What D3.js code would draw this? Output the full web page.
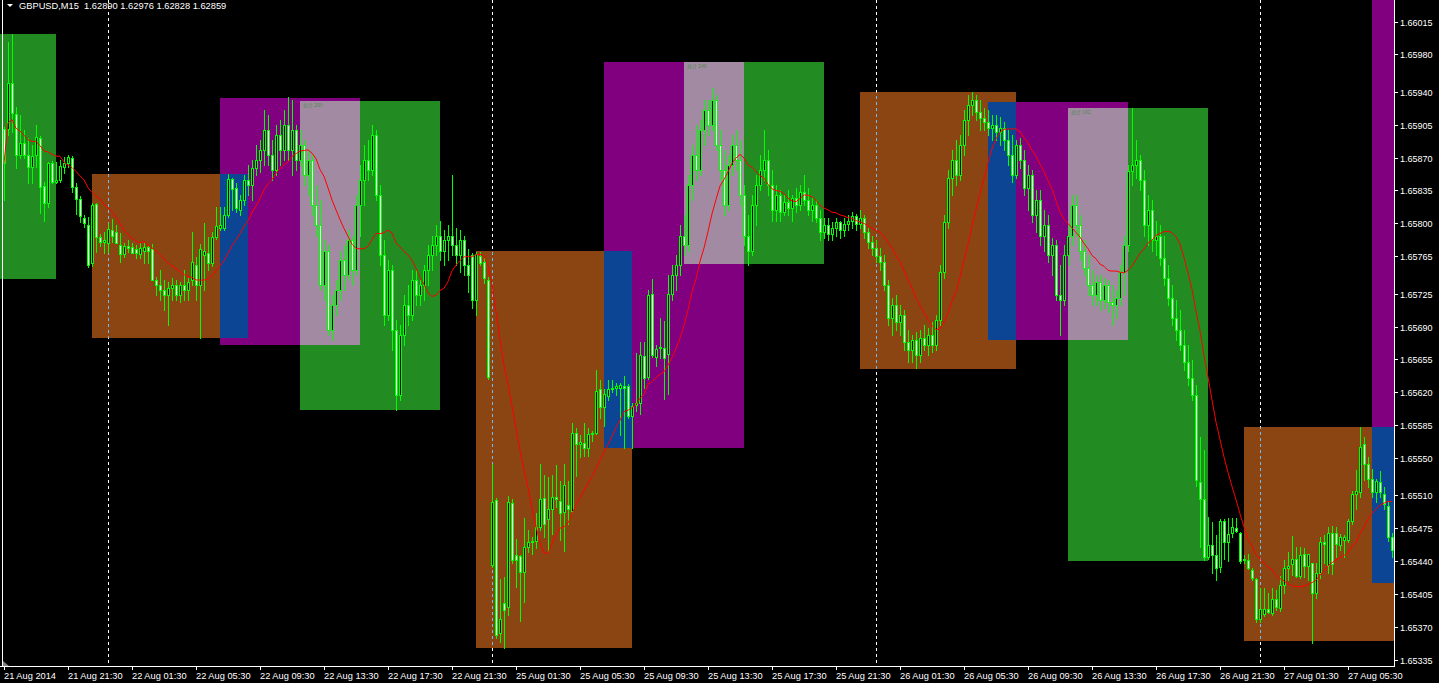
<!DOCTYPE html>
<html><head><meta charset="utf-8">
<script src="https://cdn.jsdelivr.net/npm/d3@7"></script>
<style>html,body{margin:0;padding:0;background:#000;overflow:hidden}</style>
</head><body>
<svg id="c" width="1439" height="683" xmlns="http://www.w3.org/2000/svg"></svg>
<script>
// ---- data (GBPUSD M15) ----
const open=[1.65900,1.65900,1.65950,1.65916,1.65873,1.65886,1.65873,1.65860,1.65873,1.65891,
1.65840,1.65822,1.65864,1.65844,1.65846,1.65860,1.65864,1.65870,1.65839,1.65826,
1.65806,1.65798,1.65758,1.65821,1.65785,1.65780,1.65779,1.65793,1.65791,1.65777,
1.65767,1.65776,1.65775,1.65773,1.65767,1.65771,1.65775,1.65773,1.65740,1.65734,
1.65729,1.65724,1.65731,1.65734,1.65724,1.65734,1.65729,1.65740,1.65756,1.65734,
1.65766,1.65768,1.65758,1.65785,1.65795,1.65795,1.65809,1.65847,1.65838,1.65814,
1.65825,1.65846,1.65841,1.65859,1.65867,1.65878,1.65899,1.65873,1.65857,1.65894,
1.65878,1.65905,1.65878,1.65899,1.65867,1.65883,1.65851,1.65867,1.65819,1.65798,
1.65734,1.65771,1.65686,1.65713,1.65729,1.65761,1.65745,1.65782,1.65750,1.65819,
1.65846,1.65867,1.65857,1.65894,1.65830,1.65766,1.65702,1.65750,1.65686,1.65617,
1.65681,1.65713,1.65702,1.65740,1.65724,1.65734,1.65750,1.65766,1.65777,1.65787,
1.65771,1.65782,1.65787,1.65777,1.65766,1.65782,1.65756,1.65766,1.65718,1.65765,
1.65759,1.65740,1.65436,1.65505,1.65363,1.65395,1.65391,1.65502,1.65446,1.65445,
1.65428,1.65455,1.65460,1.65461,1.65476,1.65507,1.65485,1.65496,1.65508,1.65504,
1.65492,1.65500,1.65493,1.65576,1.65565,1.65566,1.65561,1.65575,1.65576,1.65623,
1.65604,1.65616,1.65623,1.65625,1.65625,1.65627,1.65627,1.65595,1.65606,1.65608,
1.65659,1.65636,1.65725,1.65657,1.65667,1.65667,1.65661,1.65725,1.65745,1.65756,
1.65787,1.65777,1.65841,1.65873,1.65857,1.65899,1.65921,1.65905,1.65931,1.65883,
1.65857,1.65819,1.65862,1.65883,1.65867,1.65830,1.65787,1.65771,1.65819,1.65841,
1.65857,1.65867,1.65841,1.65814,1.65830,1.65812,1.65823,1.65816,1.65827,1.65819,
1.65833,1.65825,1.65814,1.65819,1.65806,1.65791,1.65798,1.65789,1.65795,1.65801,
1.65793,1.65799,1.65803,1.65808,1.65799,1.65806,1.65791,1.65780,1.65774,1.65765,
1.65759,1.65734,1.65699,1.65713,1.65695,1.65702,1.65673,1.65665,1.65676,1.65660,
1.65678,1.65670,1.65681,1.65670,1.65697,1.65748,1.65801,1.65848,1.65867,1.65851,
1.65883,1.65910,1.65926,1.65931,1.65919,1.65912,1.65908,1.65902,1.65905,1.65897,
1.65902,1.65889,1.65873,1.65851,1.65883,1.65867,1.65838,1.65851,1.65809,1.65825,
1.65787,1.65798,1.65766,1.65777,1.65724,1.65718,1.65766,1.65787,1.65819,1.65798,
1.65771,1.65752,1.65734,1.65724,1.65737,1.65718,1.65734,1.65716,1.65713,1.65720,
1.65748,1.65777,1.65856,1.65862,1.65867,1.65846,1.65798,1.65814,1.65782,1.65787,
1.65763,1.65742,1.65720,1.65699,1.65686,1.65670,1.65652,1.65635,1.65617,1.65524,
1.65506,1.65444,1.65457,1.65447,1.65434,1.65483,1.65460,1.65470,1.65475,1.65470,
1.65442,1.65441,1.65431,1.65421,1.65378,1.65384,1.65389,1.65385,1.65400,1.65390,
1.65415,1.65433,1.65437,1.65442,1.65424,1.65448,1.65435,1.65438,1.65406,1.65427,
1.65460,1.65436,1.65470,1.65470,1.65457,1.65463,1.65463,1.65483,1.65512,1.65514,
1.65565,1.65543,1.65527,1.65514,1.65524,1.65512,1.65499,1.65466];

const high=[1.65903,1.65993,1.66002,1.65924,1.65915,1.65899,1.65891,1.65883,1.65905,1.65893,
1.65844,1.65865,1.65866,1.65865,1.65867,1.65871,1.65873,1.65872,1.65843,1.65829,
1.65809,1.65807,1.65822,1.65822,1.65789,1.65791,1.65800,1.65805,1.65798,1.65790,
1.65779,1.65782,1.65779,1.65777,1.65779,1.65779,1.65776,1.65778,1.65743,1.65750,
1.65740,1.65737,1.65742,1.65740,1.65737,1.65750,1.65742,1.65791,1.65764,1.65778,
1.65800,1.65785,1.65791,1.65817,1.65817,1.65817,1.65853,1.65848,1.65843,1.65830,
1.65851,1.65862,1.65867,1.65883,1.65889,1.65921,1.65915,1.65889,1.65905,1.65910,
1.65921,1.65935,1.65931,1.65905,1.65899,1.65889,1.65878,1.65873,1.65841,1.65825,
1.65782,1.65777,1.65724,1.65740,1.65771,1.65777,1.65793,1.65787,1.65830,1.65862,
1.65883,1.65889,1.65905,1.65899,1.65841,1.65782,1.65761,1.65756,1.65697,1.65692,
1.65724,1.65734,1.65750,1.65750,1.65740,1.65756,1.65777,1.65787,1.65798,1.65803,
1.65793,1.65798,1.65851,1.65795,1.65793,1.65787,1.65773,1.65768,1.65769,1.65769,
1.65763,1.65743,1.65543,1.65507,1.65421,1.65423,1.65509,1.65506,1.65464,1.65446,
1.65486,1.65473,1.65466,1.65491,1.65544,1.65532,1.65530,1.65532,1.65542,1.65525,
1.65544,1.65525,1.65587,1.65582,1.65574,1.65587,1.65582,1.65579,1.65644,1.65633,
1.65623,1.65633,1.65633,1.65630,1.65630,1.65637,1.65629,1.65608,1.65662,1.65673,
1.65674,1.65729,1.65741,1.65670,1.65699,1.65696,1.65745,1.65756,1.65766,1.65798,
1.65809,1.65851,1.65883,1.65905,1.65910,1.65931,1.65931,1.65944,1.65937,1.65899,
1.65878,1.65873,1.65894,1.65899,1.65889,1.65841,1.65809,1.65830,1.65851,1.65873,
1.65899,1.65878,1.65857,1.65841,1.65835,1.65830,1.65835,1.65830,1.65838,1.65841,
1.65851,1.65838,1.65827,1.65825,1.65814,1.65806,1.65806,1.65801,1.65806,1.65803,
1.65806,1.65809,1.65812,1.65810,1.65814,1.65809,1.65795,1.65787,1.65782,1.65774,
1.65766,1.65740,1.65720,1.65724,1.65713,1.65708,1.65686,1.65681,1.65684,1.65686,
1.65692,1.65688,1.65695,1.65702,1.65756,1.65809,1.65857,1.65878,1.65889,1.65894,
1.65921,1.65937,1.65940,1.65937,1.65931,1.65923,1.65921,1.65915,1.65915,1.65913,
1.65908,1.65899,1.65894,1.65889,1.65891,1.65878,1.65862,1.65857,1.65835,1.65835,
1.65814,1.65809,1.65784,1.65782,1.65756,1.65777,1.65798,1.65830,1.65830,1.65809,
1.65782,1.65766,1.65750,1.65745,1.65745,1.65742,1.65740,1.65734,1.65729,1.65756,
1.65787,1.65862,1.65923,1.65889,1.65873,1.65857,1.65830,1.65825,1.65803,1.65798,
1.65787,1.65756,1.65734,1.65718,1.65708,1.65686,1.65670,1.65654,1.65628,1.65572,
1.65558,1.65487,1.65482,1.65468,1.65485,1.65485,1.65486,1.65486,1.65486,1.65471,
1.65446,1.65448,1.65433,1.65422,1.65411,1.65411,1.65406,1.65411,1.65409,1.65424,
1.65441,1.65450,1.65467,1.65455,1.65455,1.65454,1.65446,1.65438,1.65438,1.65466,
1.65468,1.65476,1.65477,1.65476,1.65469,1.65468,1.65485,1.65515,1.65537,1.65583,
1.65572,1.65551,1.65538,1.65528,1.65536,1.65519,1.65503,1.65470];

const low=[1.65825,1.65894,1.65897,1.65859,1.65870,1.65870,1.65843,1.65843,1.65860,1.65811,
1.65803,1.65817,1.65843,1.65843,1.65844,1.65854,1.65860,1.65833,1.65810,1.65801,
1.65796,1.65753,1.65755,1.65769,1.65776,1.65768,1.65769,1.65780,1.65779,1.65759,
1.65764,1.65769,1.65768,1.65763,1.65763,1.65758,1.65758,1.65740,1.65724,1.65718,
1.65708,1.65692,1.65718,1.65718,1.65716,1.65718,1.65718,1.65734,1.65718,1.65678,
1.65729,1.65750,1.65755,1.65783,1.65793,1.65793,1.65807,1.65814,1.65812,1.65809,
1.65819,1.65830,1.65825,1.65851,1.65855,1.65862,1.65862,1.65846,1.65851,1.65862,
1.65867,1.65867,1.65851,1.65857,1.65862,1.65841,1.65830,1.65809,1.65787,1.65729,
1.65718,1.65681,1.65676,1.65702,1.65718,1.65729,1.65740,1.65734,1.65745,1.65787,
1.65819,1.65846,1.65851,1.65825,1.65756,1.65692,1.65697,1.65665,1.65601,1.65612,
1.65670,1.65692,1.65697,1.65713,1.65713,1.65718,1.65734,1.65750,1.65766,1.65761,
1.65756,1.65761,1.65766,1.65756,1.65748,1.65745,1.65727,1.65710,1.65702,1.65756,
1.65736,1.65634,1.65434,1.65358,1.65354,1.65347,1.65383,1.65438,1.65412,1.65376,
1.65396,1.65450,1.65448,1.65454,1.65473,1.65466,1.65450,1.65469,1.65498,1.65462,
1.65451,1.65479,1.65491,1.65531,1.65551,1.65552,1.65552,1.65568,1.65575,1.65593,
1.65584,1.65612,1.65620,1.65617,1.65574,1.65561,1.65592,1.65561,1.65600,1.65597,
1.65625,1.65634,1.65657,1.65648,1.65656,1.65613,1.65618,1.65718,1.65729,1.65745,
1.65766,1.65771,1.65825,1.65846,1.65851,1.65883,1.65894,1.65899,1.65878,1.65846,
1.65809,1.65814,1.65851,1.65857,1.65819,1.65777,1.65756,1.65766,1.65798,1.65835,
1.65846,1.65830,1.65803,1.65803,1.65803,1.65809,1.65809,1.65803,1.65812,1.65814,
1.65819,1.65809,1.65803,1.65801,1.65782,1.65784,1.65782,1.65782,1.65787,1.65784,
1.65787,1.65793,1.65795,1.65793,1.65795,1.65784,1.65774,1.65766,1.65759,1.65750,
1.65729,1.65692,1.65681,1.65686,1.65681,1.65665,1.65652,1.65652,1.65646,1.65652,
1.65665,1.65660,1.65663,1.65665,1.65692,1.65742,1.65795,1.65830,1.65841,1.65846,
1.65873,1.65894,1.65915,1.65910,1.65899,1.65899,1.65894,1.65889,1.65889,1.65883,
1.65878,1.65862,1.65844,1.65848,1.65859,1.65830,1.65814,1.65801,1.65791,1.65777,
1.65771,1.65759,1.65745,1.65718,1.65681,1.65713,1.65756,1.65777,1.65787,1.65761,
1.65745,1.65724,1.65713,1.65713,1.65708,1.65710,1.65706,1.65692,1.65699,1.65713,
1.65724,1.65771,1.65841,1.65848,1.65835,1.65787,1.65777,1.65771,1.65766,1.65756,
1.65734,1.65713,1.65692,1.65676,1.65665,1.65644,1.65628,1.65612,1.65520,1.65455,
1.65441,1.65442,1.65427,1.65420,1.65428,1.65442,1.65440,1.65466,1.65471,1.65438,
1.65438,1.65432,1.65420,1.65375,1.65375,1.65381,1.65385,1.65383,1.65388,1.65387,
1.65406,1.65420,1.65425,1.65423,1.65422,1.65423,1.65420,1.65353,1.65401,1.65422,
1.65438,1.65427,1.65426,1.65444,1.65452,1.65444,1.65460,1.65480,1.65495,1.65508,
1.65526,1.65519,1.65508,1.65503,1.65508,1.65496,1.65461,1.65444];

const close=[1.65864,1.65950,1.65918,1.65873,1.65886,1.65873,1.65860,1.65872,1.65892,1.65839,
1.65822,1.65864,1.65844,1.65846,1.65861,1.65864,1.65871,1.65839,1.65826,1.65808,
1.65800,1.65756,1.65819,1.65785,1.65780,1.65782,1.65794,1.65787,1.65779,1.65767,
1.65776,1.65774,1.65768,1.65768,1.65774,1.65775,1.65771,1.65740,1.65734,1.65729,
1.65724,1.65731,1.65734,1.65724,1.65734,1.65729,1.65737,1.65759,1.65734,1.65773,
1.65771,1.65758,1.65785,1.65797,1.65798,1.65809,1.65847,1.65837,1.65816,1.65825,
1.65846,1.65841,1.65859,1.65867,1.65878,1.65899,1.65873,1.65857,1.65894,1.65878,
1.65905,1.65878,1.65899,1.65867,1.65883,1.65851,1.65867,1.65819,1.65798,1.65734,
1.65771,1.65686,1.65713,1.65729,1.65761,1.65745,1.65782,1.65750,1.65819,1.65846,
1.65867,1.65857,1.65894,1.65830,1.65766,1.65702,1.65750,1.65686,1.65617,1.65681,
1.65713,1.65702,1.65740,1.65724,1.65734,1.65750,1.65766,1.65777,1.65787,1.65771,
1.65782,1.65787,1.65777,1.65766,1.65782,1.65756,1.65745,1.65718,1.65767,1.65758,
1.65742,1.65636,1.65503,1.65361,1.65378,1.65388,1.65503,1.65441,1.65441,1.65428,
1.65455,1.65460,1.65461,1.65476,1.65506,1.65480,1.65496,1.65508,1.65506,1.65491,
1.65521,1.65495,1.65576,1.65565,1.65567,1.65561,1.65575,1.65576,1.65621,1.65604,
1.65618,1.65623,1.65625,1.65627,1.65628,1.65625,1.65595,1.65605,1.65608,1.65660,
1.65635,1.65724,1.65660,1.65666,1.65668,1.65656,1.65725,1.65745,1.65756,1.65787,
1.65777,1.65841,1.65873,1.65857,1.65899,1.65921,1.65905,1.65931,1.65883,1.65857,
1.65819,1.65862,1.65883,1.65867,1.65830,1.65787,1.65771,1.65819,1.65841,1.65857,
1.65867,1.65841,1.65814,1.65830,1.65812,1.65823,1.65816,1.65827,1.65819,1.65833,
1.65825,1.65814,1.65819,1.65806,1.65791,1.65798,1.65789,1.65795,1.65801,1.65793,
1.65799,1.65803,1.65808,1.65799,1.65806,1.65791,1.65780,1.65774,1.65765,1.65759,
1.65734,1.65699,1.65713,1.65695,1.65702,1.65673,1.65665,1.65676,1.65660,1.65678,
1.65670,1.65681,1.65670,1.65697,1.65748,1.65801,1.65848,1.65867,1.65851,1.65883,
1.65910,1.65926,1.65931,1.65919,1.65912,1.65908,1.65902,1.65905,1.65897,1.65902,
1.65889,1.65873,1.65851,1.65883,1.65867,1.65838,1.65851,1.65809,1.65825,1.65787,
1.65798,1.65766,1.65777,1.65724,1.65718,1.65766,1.65787,1.65819,1.65798,1.65771,
1.65752,1.65734,1.65724,1.65737,1.65718,1.65734,1.65716,1.65713,1.65720,1.65748,
1.65777,1.65856,1.65862,1.65867,1.65846,1.65798,1.65814,1.65782,1.65787,1.65763,
1.65742,1.65720,1.65699,1.65686,1.65670,1.65652,1.65635,1.65617,1.65526,1.65506,
1.65444,1.65457,1.65446,1.65433,1.65483,1.65460,1.65469,1.65476,1.65472,1.65440,
1.65441,1.65433,1.65422,1.65378,1.65389,1.65389,1.65386,1.65400,1.65391,1.65414,
1.65433,1.65435,1.65442,1.65424,1.65447,1.65435,1.65448,1.65406,1.65427,1.65460,
1.65458,1.65470,1.65437,1.65458,1.65466,1.65466,1.65483,1.65512,1.65515,1.65562,
1.65544,1.65527,1.65514,1.65525,1.65514,1.65501,1.65466,1.65452];

// Rectangles (bar index start/end, price top/bottom, kind)
const rectStart  = [-22, 22, 54, 74, 118, 150, 170, 214, 246, 266, 310, 342];
const rectEnd    = [ 13, 61, 89, 109, 157, 185, 205, 253, 281, 301, 349, 377];
const rectTop    = [1.66002,1.65853,1.65934,1.65930,1.65770,1.65972,1.65972,1.65940,1.65929,1.65923,1.65583,1.66100];
const rectBottom = [1.65741,1.65678,1.65670,1.65601,1.65347,1.65561,1.65757,1.65645,1.65676,1.65440,1.65355,1.65417];
const rectKind   = ["green","brown","purple","green","brown","purple","green","brown","purple","green","brown","purple"];
const rectNote   = ["","","","总计 209","","","总计 246","","","总计 162","",""];

const priceTicks = [1.66015,1.65980,1.65940,1.65905,1.65870,1.65835,1.65800,1.65765,1.65725,1.65690,
  1.65655,1.65620,1.65585,1.65550,1.65510,1.65475,1.65440,1.65405,1.65370,1.65335];
const timeTickBars = [0,16,32,48,64,80,96,112,128,144,160,176,192,208,224,240,256,272,288,304,320,336];
const timeTickLabels = ["21 Aug 2014","21 Aug 21:30","22 Aug 01:30","22 Aug 05:30","22 Aug 09:30","22 Aug 13:30",
  "22 Aug 17:30","22 Aug 21:30","25 Aug 01:30","25 Aug 05:30","25 Aug 09:30","25 Aug 13:30","25 Aug 17:30",
  "25 Aug 21:30","26 Aug 01:30","26 Aug 05:30","26 Aug 09:30","26 Aug 13:30","26 Aug 17:30","26 Aug 21:30",
  "27 Aug 01:30","27 Aug 05:30"];
const separatorBars = [26, 122, 218, 314];
const maPeriod = 14;
const headerText = "GBPUSD,M15  1.62890 1.62976 1.62828 1.62859";

// ---- rendering ----
const W = 1439, H = 683, plotR = 1394, plotB = 666;
const n = Math.min(open.length, high.length, low.length, close.length);
const x = d3.scaleLinear().domain([0, 347]).range([4, 1392]);
const y = d3.scaleLinear().domain([1.66015, 1.65335]).range([21.6, 659.6]);
const px = i => Math.round(x(i));
const py = v => Math.round(y(v));

const svg = d3.select('#c');
svg.append('rect').attr('width', W).attr('height', H).attr('fill', '#000');
svg.append('defs').append('clipPath').attr('id', 'plot')
  .append('rect').attr('x', 0).attr('y', 0).attr('width', plotR).attr('height', plotB);
const g = svg.append('g').attr('clip-path', 'url(#plot)').attr('shape-rendering', 'crispEdges');

const colorOf = {green: '#228B22', brown: '#8B4513', purple: '#800080'};
const hex2rgb = h => [1, 3, 5].map(k => parseInt(h.substr(k, 2), 16));
const rgb2hex = a => '#' + a.map(v => v.toString(16).padStart(2, '0')).join('');
const xorc = (a, b) => a.map((v, k) => v ^ b[k]);

const boxes = rectStart.map((s, k) => ({
  x0: px(s), x1: px(rectEnd[k]), y0: py(rectTop[k]), y1: py(rectBottom[k]),
  c: hex2rgb(colorOf[rectKind[k]]), note: rectNote[k]
}));
// base rectangles
g.selectAll('rect.box').data(boxes).join('rect').attr('class', 'box')
  .attr('x', d => d.x0).attr('y', d => d.y0)
  .attr('width', d => d.x1 - d.x0).attr('height', d => d.y1 - d.y0)
  .attr('fill', d => rgb2hex(d.c));
// XOR overlaps (MT4 draws rectangles with XOR)
const overlaps = [];
for (let a = 0; a < boxes.length; a++) for (let b = a + 1; b < boxes.length; b++) {
  const A = boxes[a], B = boxes[b];
  const ox0 = Math.max(A.x0, B.x0), ox1 = Math.min(A.x1, B.x1);
  const oy0 = Math.max(A.y0, B.y0), oy1 = Math.min(A.y1, B.y1);
  if (ox0 < ox1 && oy0 < oy1) overlaps.push({x0: ox0, x1: ox1, y0: oy0, y1: oy1, c: xorc(A.c, B.c), note: A.note || B.note});
}
g.selectAll('rect.ov').data(overlaps).join('rect').attr('class', 'ov')
  .attr('x', d => d.x0).attr('y', d => d.y0)
  .attr('width', d => d.x1 - d.x0).attr('height', d => d.y1 - d.y0)
  .attr('fill', d => rgb2hex(d.c));

// period separators (dotted, XOR with background)
const dash = '3,3';
separatorBars.forEach(b => {
  const sx = px(b);
  const cover = boxes.filter(d => d.x0 <= sx && sx < d.x1);
  const ys = [0, plotB];
  cover.forEach(d => { ys.push(Math.max(0, d.y0)); ys.push(Math.min(plotB, d.y1)); });
  const uniq = Array.from(new Set(ys)).sort((p, q) => p - q);
  for (let k = 0; k < uniq.length - 1; k++) {
    const a = uniq[k], b2 = uniq[k + 1], mid = (a + b2) / 2;
    let col = [255, 255, 255];
    cover.forEach(d => { if (d.y0 <= mid && mid < d.y1) col = xorc(col, d.c); });
    g.append('line').attr('x1', sx + 0.5).attr('x2', sx + 0.5).attr('y1', a).attr('y2', b2)
      .attr('stroke', rgb2hex(col)).attr('stroke-width', 1)
      .attr('stroke-dasharray', dash).attr('stroke-dashoffset', a % 6)
      .attr('shape-rendering', 'auto');
  }
});

// candles
const idx = d3.range(n);
const cg = g.append('g');
idx.forEach(i => {
  const cx = px(i);
  const o = open[i], c = close[i];
  const hi = Math.max(high[i], o, c), lo = Math.min(low[i], o, c);
  const yH = py(hi), yL = py(lo);
  cg.append('rect').attr('x', cx).attr('y', yH).attr('width', 1).attr('height', yL - yH + 1).attr('fill', '#00FF00');
  const yT = py(Math.max(o, c)), yB = py(Math.min(o, c));
  cg.append('rect').attr('x', cx - 1).attr('y', yT).attr('width', 3).attr('height', yB - yT + 1).attr('fill', '#00FF00');
  if (yB - yT >= 2) {
    cg.append('rect').attr('x', cx).attr('y', yT + 1).attr('width', 1).attr('height', yB - yT - 1)
      .attr('fill', c < o ? '#FFFFFF' : '#000000');
  }
});

// moving average (SMA of close)
const ma = idx.map(i => d3.mean(close.slice(Math.max(0, i - maPeriod + 1), i + 1)));
g.append('path').datum(idx)
  .attr('d', d3.line().x(i => x(i)).y(i => y(ma[i])))
  .attr('fill', 'none').attr('stroke', '#FF0000').attr('stroke-width', 1)
  .attr('shape-rendering', 'auto');

// tiny notes inside overlap boxes
g.selectAll('text.note').data(overlaps.filter(d => d.note)).join('text').attr('class', 'note')
  .attr('x', d => d.x0 + 3).attr('y', d => d.y0 + 6)
  .attr('font-family', "'Noto Sans CJK SC', sans-serif").attr('font-size', 5)
  .attr('fill', '#4a8a4a').text(d => d.note);

// frame lines
const fr = svg.append('g').attr('shape-rendering', 'crispEdges');
fr.append('rect').attr('x', plotR).attr('y', 0).attr('width', 1).attr('height', plotB + 1).attr('fill', '#fff');
fr.append('rect').attr('x', 0).attr('y', plotB).attr('width', plotR + 1).attr('height', 1).attr('fill', '#fff');
fr.append('rect').attr('x', 2).attr('y', 0).attr('width', 1).attr('height', plotB).attr('fill', '#fff');
svg.append('polygon').attr('points', `3,${plotB - 5} 3,${plotB} 9,${plotB}`).attr('fill', '#808080');

// price axis
const axF = "'Liberation Sans', Arial, sans-serif";
priceTicks.forEach(v => {
  const yy = py(v);
  fr.append('rect').attr('x', plotR + 1).attr('y', yy).attr('width', 3).attr('height', 1).attr('fill', '#fff');
  svg.append('text').attr('x', 1400).attr('y', yy + 3.5).attr('font-family', axF).attr('font-size', 9)
    .attr('fill', '#fff').text(v.toFixed(5));
});
// time axis
timeTickBars.forEach((b, k) => {
  const xx = px(b);
  fr.append('rect').attr('x', xx).attr('y', plotB + 1).attr('width', 1).attr('height', 3).attr('fill', '#fff');
  svg.append('text').attr('x', xx).attr('y', 679).attr('font-family', axF).attr('font-size', 9.25)
    .attr('fill', '#fff').text(timeTickLabels[k]);
});
// header
svg.append('polygon').attr('points', '7,4 13,4 10,7').attr('fill', '#fff');
svg.append('text').attr('x', 19).attr('y', 9).attr('font-family', axF).attr('font-size', 9.3)
  .attr('fill', '#fff').attr('xml:space', 'preserve').style('white-space', 'pre').text(headerText);
</script>
</body></html>
